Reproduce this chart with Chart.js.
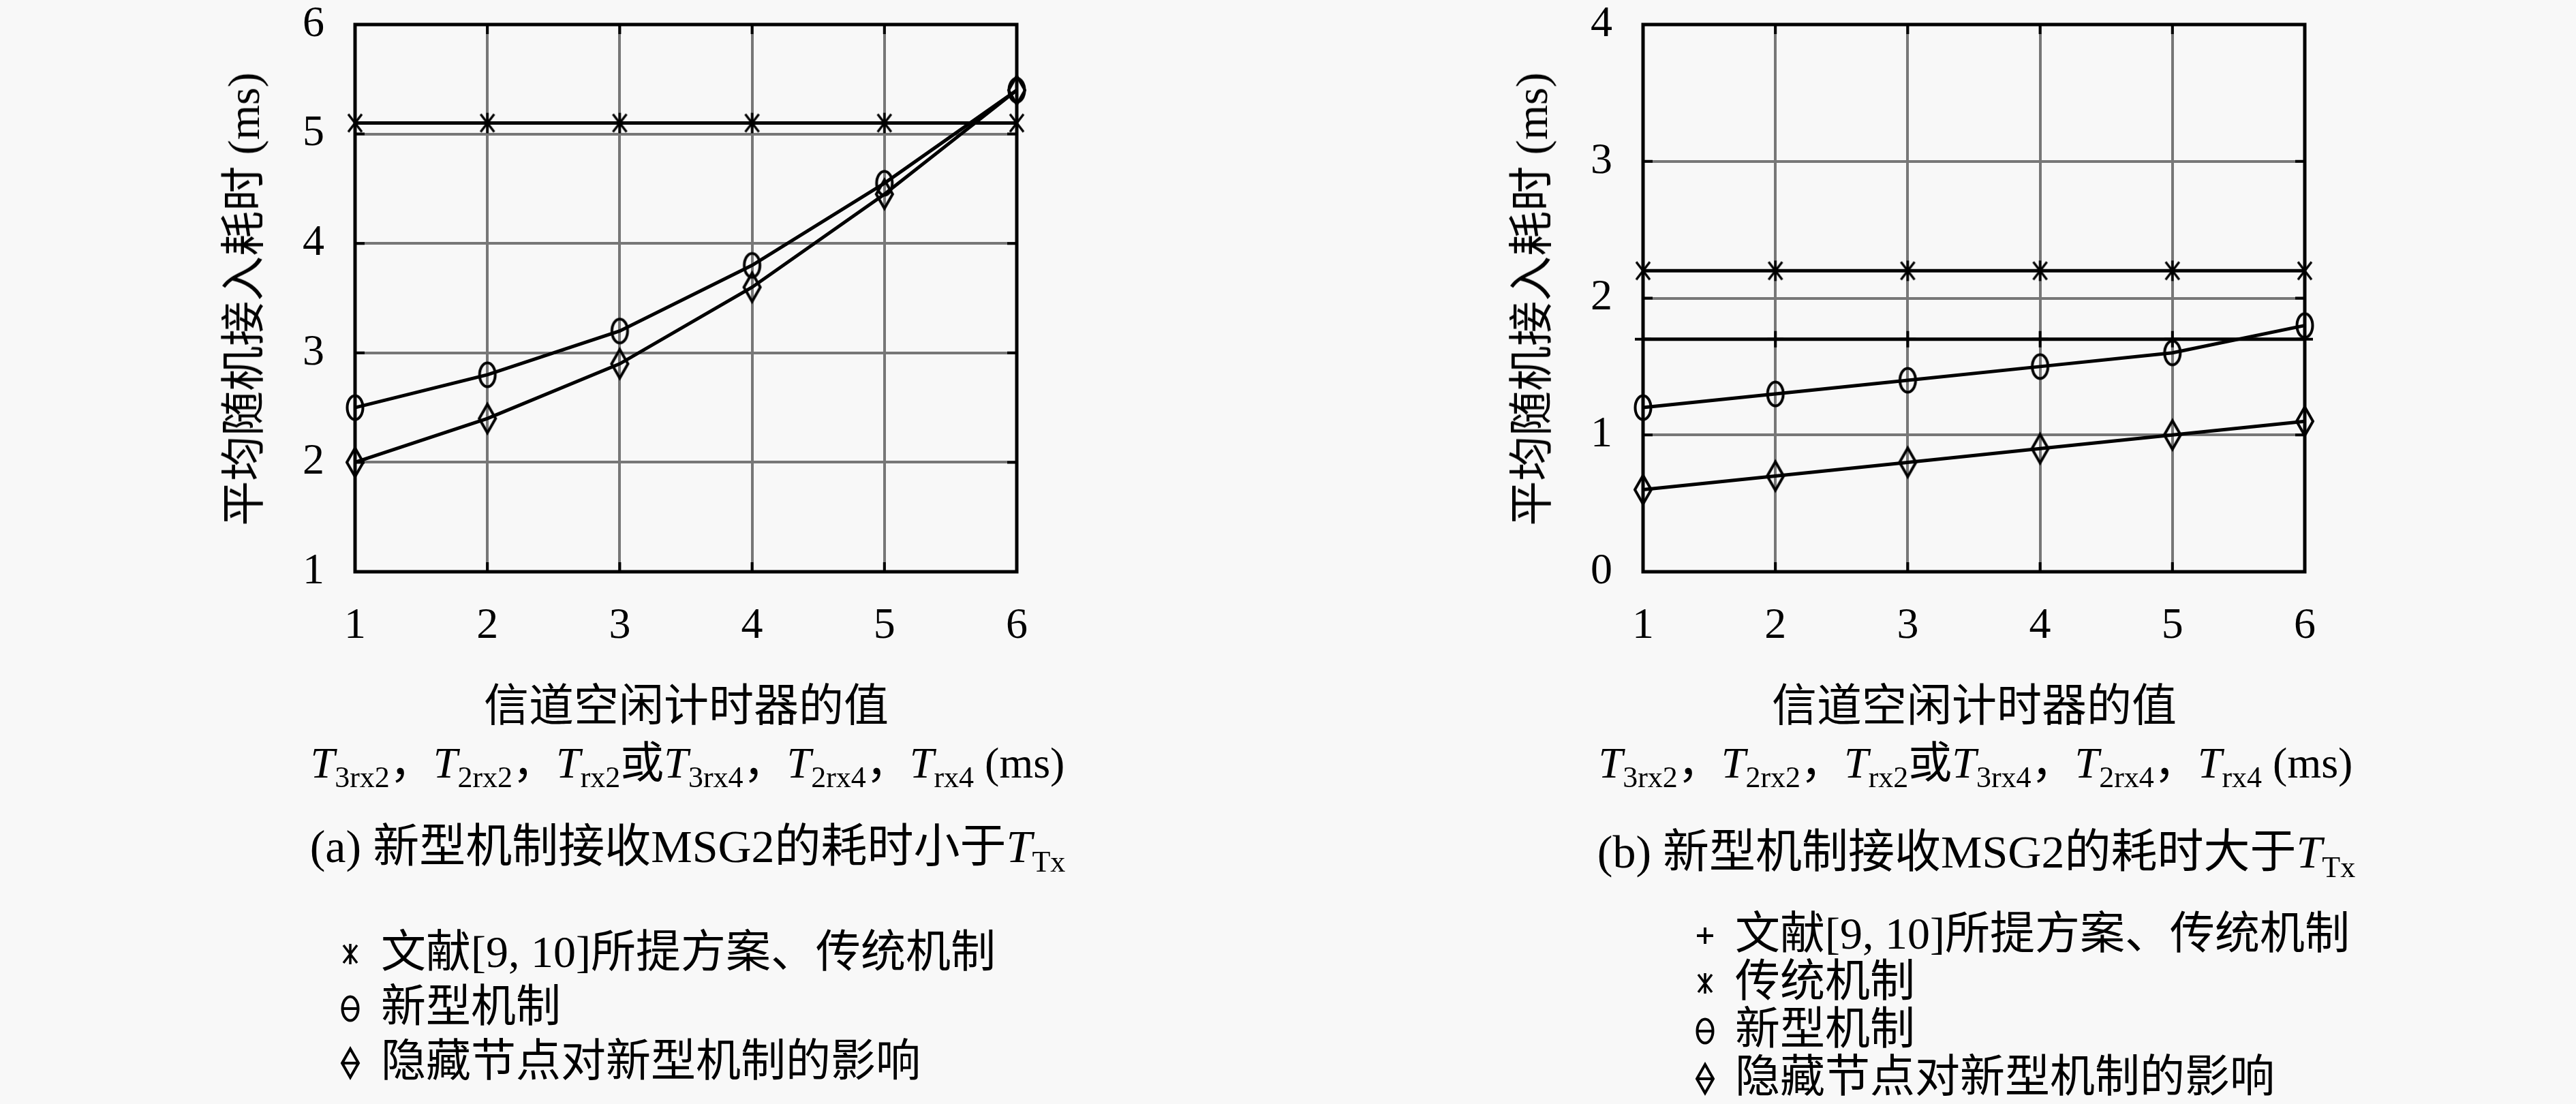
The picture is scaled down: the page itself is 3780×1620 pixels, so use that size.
<!DOCTYPE html>
<html><head><meta charset="utf-8">
<script src="https://cdn.jsdelivr.net/npm/chart.js@4.4.1/dist/chart.umd.min.js"></script>
<style>
html,body{margin:0;padding:0;background:#f8f8f8;}
#wrap{position:relative;width:3780px;height:1620px;overflow:hidden;background:#f8f8f8;}
.panel{position:absolute;top:0;width:1890px;height:1620px;}
.panel canvas{position:absolute;left:0;top:0;}
.txt{position:absolute;white-space:nowrap;color:#000;font-family:"Liberation Serif","Noto Sans CJK SC",serif;font-size:66px;line-height:1;transform:translate(-50%,-50%);}
.txt i{font-style:italic;}
.txt sub{font-size:44px;vertical-align:-0.32em;line-height:0;}
.ytitle{transform:translate(-50%,-50%) rotate(-90deg);}
</style>
</head><body>
<div id="wrap">
  <div class="panel" id="pa" style="left:0px;">
    <canvas id="ca" width="1890" height="1620"></canvas>
    <div class="txt ytitle" style="left:358px;top:439px;">平均随机接入耗时 (ms)</div>
    <div class="txt" style="left:1007px;top:1036px;">信道空闲计时器的值</div>
    <div class="txt" style="left:1009px;top:1120px;font-size:64px;"><i>T</i><sub>3rx2</sub>，<i>T</i><sub>2rx2</sub>，<i>T</i><sub>rx2</sub>或<i>T</i><sub>3rx4</sub>，<i>T</i><sub>2rx4</sub>，<i>T</i><sub>rx4</sub> (ms)</div>
    <div class="txt" style="left:1009px;top:1242px;font-size:68px;">(a) 新型机制接收MSG2的耗时小于<i>T</i><sub>Tx</sub></div>
  </div>
  <div class="panel" id="pb" style="left:1890px;">
    <canvas id="cb" width="1890" height="1620"></canvas>
    <div class="txt ytitle" style="left:358px;top:439px;">平均随机接入耗时 (ms)</div>
    <div class="txt" style="left:1007px;top:1036px;">信道空闲计时器的值</div>
    <div class="txt" style="left:1009px;top:1120px;font-size:64px;"><i>T</i><sub>3rx2</sub>，<i>T</i><sub>2rx2</sub>，<i>T</i><sub>rx2</sub>或<i>T</i><sub>3rx4</sub>，<i>T</i><sub>2rx4</sub>，<i>T</i><sub>rx4</sub> (ms)</div>
    <div class="txt" style="left:1010px;top:1250px;font-size:68px;">(b) 新型机制接收MSG2的耗时大于<i>T</i><sub>Tx</sub></div>
  </div>
</div>
<script>
// ---------- data ----------
const xValues = [1, 2, 3, 4, 5, 6];
const yRangeA = [1, 6];
const yRangeB = [0, 4];

// (a)
const refTradA = [5.1, 5.1, 5.1, 5.1, 5.1, 5.1];   // 文献[9, 10]所提方案、传统机制
const newMechA = [2.5, 2.8, 3.2, 3.8, 4.55, 5.4];  // 新型机制
const hiddenA  = [2.0, 2.4, 2.9, 3.6, 4.45, 5.4];  // 隐藏节点对新型机制的影响

// (b)
const refB     = [1.7, 1.7, 1.7, 1.7, 1.7, 1.7];   // 文献[9, 10]所提方案、传统机制
const tradB    = [2.2, 2.2, 2.2, 2.2, 2.2, 2.2];   // 传统机制
const newMechB = [1.2, 1.3, 1.4, 1.5, 1.6, 1.8];   // 新型机制
const hiddenB  = [0.6, 0.7, 0.8, 0.9, 1.0, 1.1];   // 隐藏节点对新型机制的影响

const labelsA = ['文献[9, 10]所提方案、传统机制', '新型机制', '隐藏节点对新型机制的影响'];
const labelsB = ['文献[9, 10]所提方案、传统机制', '传统机制', '新型机制', '隐藏节点对新型机制的影响'];

// ---------- marker images ----------
function mk(w, h, draw) {
  const c = document.createElement('canvas');
  c.width = w; c.height = h;
  const g = c.getContext('2d');
  g.strokeStyle = '#000'; g.lineWidth = 4; g.lineCap = 'butt';
  draw(g, w / 2, h / 2);
  return c;
}
function ellipse(bar) {
  return mk(34, 46, (g, cx, cy) => {
    g.beginPath(); g.ellipse(cx, cy, 11.5, 17.5, 0, 0, Math.PI * 2); g.stroke();
    if (bar) { g.beginPath(); g.moveTo(cx - 11.5, cy); g.lineTo(cx + 11.5, cy); g.stroke(); }
  });
}
function diamond(bar) {
  return mk(34, 54, (g, cx, cy) => {
    g.beginPath(); g.moveTo(cx, cy - 21); g.lineTo(cx + 12, cy); g.lineTo(cx, cy + 21); g.lineTo(cx - 12, cy); g.closePath(); g.stroke();
    if (bar) { g.beginPath(); g.moveTo(cx - 12, cy); g.lineTo(cx + 12, cy); g.stroke(); }
  });
}
function star(bar) {
  return mk(32, 36, (g, cx, cy) => {
    g.lineWidth = 3.5;
    g.beginPath();
    g.moveTo(cx, cy - 15); g.lineTo(cx, cy + 15);
    g.moveTo(cx - 10, cy - 13); g.lineTo(cx + 10, cy + 13);
    g.moveTo(cx + 10, cy - 13); g.lineTo(cx - 10, cy + 13);
    if (bar) { g.moveTo(cx - 11, cy); g.lineTo(cx + 11, cy); }
    g.stroke();
  });
}
function plus() {
  return mk(32, 32, (g, cx, cy) => {
    g.beginPath(); g.moveTo(cx - 12, cy); g.lineTo(cx + 12, cy); g.moveTo(cx, cy - 12); g.lineTo(cx, cy + 12); g.stroke();
  });
}

function pts(arr) { return xValues.map((x, i) => ({ x: x, y: arr[i] })); }
function ds(label, arr, marker, legendMarker) {
  return {
    label: label, data: pts(arr), borderColor: '#000', borderWidth: 5,
    backgroundColor: 'transparent', pointStyle: marker, pointRadius: 14,
    fill: false, tension: 0, clip: false, legendMarker: legendMarker
  };
}

const FONT_NUM = { family: '"Liberation Serif", serif', size: 64 };

const framePlugin = {
  id: 'frame',
  beforeDatasetsDraw(chart) {
    const { ctx, chartArea: a, scales } = chart;
    ctx.save();
    ctx.strokeStyle = '#000';
    ctx.lineWidth = 4;
    const L = 14;
    ctx.beginPath();
    scales.x.ticks.forEach(t => {
      const px = scales.x.getPixelForValue(t.value);
      ctx.moveTo(px, a.top); ctx.lineTo(px, a.top + L);
      ctx.moveTo(px, a.bottom); ctx.lineTo(px, a.bottom - L);
    });
    scales.y.ticks.forEach(t => {
      const py = scales.y.getPixelForValue(t.value);
      ctx.moveTo(a.left, py); ctx.lineTo(a.left + L, py);
      ctx.moveTo(a.right, py); ctx.lineTo(a.right - L, py);
    });
    ctx.stroke();
    ctx.lineWidth = 5;
    ctx.strokeRect(a.left, a.top, a.right - a.left, a.bottom - a.top);
    ctx.restore();
  }
};

const legendPlugin = {
  id: 'customLegend',
  afterDraw(chart, args, opts) {
    const ctx = chart.ctx;
    ctx.save();
    ctx.font = '66px "Liberation Serif", "Noto Sans CJK SC"';
    ctx.fillStyle = '#000';
    ctx.textBaseline = 'middle';
    ctx.textAlign = 'left';
    chart.data.datasets.forEach((d, i) => {
      const y = opts.y0 + i * opts.dy;
      const img = d.legendMarker;
      ctx.drawImage(img, opts.mx - img.width / 2, y - img.height / 2);
      ctx.fillText(d.label, opts.tx, y + 2);
    });
    ctx.restore();
  }
};

function makeChart(id, datasets, yr, legendOpts) {
  return new Chart(document.getElementById(id), {
    type: 'line',
    data: { datasets: datasets },
    plugins: [framePlugin, legendPlugin],
    options: {
      responsive: false, animation: false, events: [],
      layout: { padding: { left: 421, right: 398, top: 36, bottom: 681 } },
      plugins: { legend: { display: false }, tooltip: { enabled: false }, customLegend: legendOpts },
      scales: {
        x: {
          type: 'linear', min: 1, max: 6,
          ticks: { stepSize: 1, color: '#000', font: FONT_NUM, padding: 42, maxRotation: 0 },
          grid: { color: '#777777', lineWidth: 4, drawTicks: false },
          border: { display: false },
          afterFit(s) { s.height = 100; s.paddingLeft = 0; s.paddingRight = 0; }
        },
        y: {
          type: 'linear', min: yr[0], max: yr[1],
          ticks: { stepSize: 1, color: '#000', font: FONT_NUM, padding: 45 },
          grid: { color: '#777777', lineWidth: 4, drawTicks: false },
          border: { display: false },
          afterFit(s) { s.width = 100; s.paddingTop = 0; s.paddingBottom = 0; }
        }
      }
    }
  });
}

makeChart('ca', [
  ds(labelsA[0], refTradA, star(false), star(false)),
  ds(labelsA[1], newMechA, ellipse(false), ellipse(true)),
  ds(labelsA[2], hiddenA, diamond(false), diamond(true))
], yRangeA, { mx: 514, tx: 559, y0: 1400, dy: 80 });

makeChart('cb', [
  ds(labelsB[0], refB, plus(), plus()),
  ds(labelsB[1], tradB, star(false), star(false)),
  ds(labelsB[2], newMechB, ellipse(false), ellipse(true)),
  ds(labelsB[3], hiddenB, diamond(false), diamond(true))
], yRangeB, { mx: 612, tx: 656, y0: 1373, dy: 70 });
</script>
</body></html>
